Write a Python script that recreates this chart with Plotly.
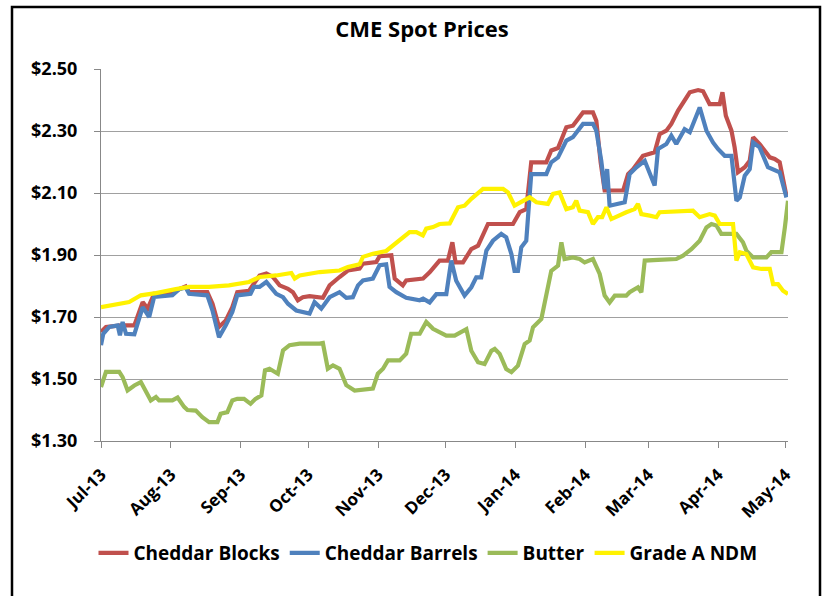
import numpy as np
import pandas as pd
import plotly.graph_objects as go

# Day offsets from 1 Jul 2013 and prices ($/lb)
blocks_day = [0, 2.2, 8.9, 14.8, 18.5, 20.7, 23.6, 31.7, 34.7, 37.6, 39.1, 47.2, 49.5, 52.4, 55.4, 58.3,
              60.5, 65.7, 67.9, 70.4, 73.4, 76.3, 79.3, 83, 85.2, 87.4, 89.6, 92.6, 98.5, 101.5, 105.9,
              109.6, 114.8, 116.3, 122.2, 123.7, 128.9, 130.4, 134, 135.5, 143, 145.9, 150.3, 154, 156,
              157.4, 160.7, 164.4, 167.4, 171.8, 182.9, 185.9, 188.8, 191, 197.7, 199.9, 202.9, 206.6,
              209.5, 214, 218.4, 219.9, 221.8, 223.6, 231.8, 234, 236.2, 239.2, 240.6, 245.8, 248, 251,
              253.2, 256.2, 259.1, 261.4, 265.1, 267.3, 270.2, 274.7, 275.9, 277.4, 279.9, 281.3, 282.8,
              285.8, 288, 289.5, 292.4, 296.9, 299.1, 301.3, 304.3]
blocks_val = [1.652, 1.668, 1.673, 1.673, 1.748, 1.727, 1.775, 1.777, 1.790, 1.799, 1.780, 1.780, 1.743,
              1.668, 1.689, 1.732, 1.780, 1.784, 1.808, 1.834, 1.840, 1.829, 1.802, 1.791, 1.780, 1.754,
              1.764, 1.767, 1.762, 1.802, 1.829, 1.850, 1.856, 1.872, 1.877, 1.896, 1.899, 1.824, 1.802,
              1.818, 1.824, 1.844, 1.882, 1.882, 1.941, 1.876, 1.876, 1.919, 1.930, 2.000, 2.000, 2.038,
              2.048, 2.199, 2.199, 2.237, 2.245, 2.312, 2.317, 2.360, 2.360, 2.333, 2.200, 2.108, 2.108,
              2.161, 2.177, 2.204, 2.220, 2.231, 2.290, 2.301, 2.323, 2.366, 2.398, 2.425, 2.432, 2.428,
              2.387, 2.387, 2.425, 2.349, 2.301, 2.247, 2.167, 2.183, 2.204, 2.280, 2.258, 2.215, 2.210,
              2.199, 2.091]

barrels_day = [0, 1, 3.7, 7.4, 8.4, 9.6, 11.1, 14.8, 18.5, 21.4, 23.6, 31.7, 34.7, 37.6, 39.1, 47.2, 49.5,
               52.4, 55.4, 58.3, 60.5, 66.4, 67.9, 70.4, 73.4, 77.8, 80.8, 83, 86.7, 92.6, 94.8, 97.8,
               101.5, 105.9, 108.9, 111.8, 114.1, 116.3, 120.7, 123.7, 126.6, 128.1, 131.1, 135.5, 141.5,
               143, 145.9, 148.9, 153.3, 155.5, 157.7, 161.4, 164.4, 166.6, 168.8, 171.1, 174, 177.7,
               179.9, 182.2, 183.6, 185.1, 186.6, 188.8, 191, 197.7, 199.9, 202.9, 206.6, 209.5, 214,
               218.4, 219.9, 222.1, 223.6, 224.7, 225.8, 228.8, 232.5, 234.7, 237.7, 241.4, 245.8, 247.3,
               251, 253.2, 255.4, 259.1, 261.4, 265.8, 268.8, 271.7, 273.9, 276.9, 279.9, 282.1, 283.6,
               285.8, 288, 289.5, 292.4, 296.1, 301.3, 304.3]
barrels_val = [1.609, 1.646, 1.668, 1.673, 1.641, 1.684, 1.646, 1.644, 1.732, 1.700, 1.765, 1.770, 1.790,
               1.795, 1.775, 1.770, 1.721, 1.635, 1.673, 1.716, 1.770, 1.775, 1.797, 1.797, 1.813, 1.775,
               1.764, 1.743, 1.721, 1.711, 1.748, 1.727, 1.764, 1.780, 1.762, 1.764, 1.802, 1.818, 1.824,
               1.867, 1.870, 1.797, 1.780, 1.762, 1.754, 1.759, 1.747, 1.774, 1.774, 1.882, 1.817, 1.769,
               1.796, 1.828, 1.828, 1.914, 1.946, 1.968, 1.957, 1.903, 1.849, 1.849, 1.925, 1.946, 2.161,
               2.161, 2.199, 2.215, 2.269, 2.280, 2.323, 2.323, 2.301, 2.204, 2.113, 2.177, 2.059, 2.065,
               2.070, 2.161, 2.183, 2.204, 2.124, 2.242, 2.258, 2.285, 2.258, 2.306, 2.296, 2.376, 2.301,
               2.263, 2.242, 2.220, 2.220, 2.075, 2.086, 2.156, 2.177, 2.263, 2.247, 2.183, 2.167, 2.086]

butter_day = [0, 2.2, 8.1, 9.6, 11.8, 14.8, 17.7, 19.9, 22.1, 24.4, 25.8, 31.7, 34, 36.9, 38.4, 42.1, 45,
              48, 51.7, 53.1, 56.1, 58.3, 60.5, 63.5, 66.4, 68.6, 71.2, 72.8, 74.8, 78.5, 80.8, 83.7, 88.2,
              97.1, 98.5, 100.7, 103, 105.9, 108.9, 112.6, 120.7, 122.9, 125.2, 127.4, 132.6, 135.5,
              137.7, 141.5, 144.4, 147.4, 150.3, 153.3, 157, 162.2, 164.4, 167.4, 170.3, 173.3, 174.8,
              177, 179.9, 182.2, 185.1, 188.1, 190.3, 191.8, 195.5, 197.7, 199.9, 202.9, 204.4, 205.8,
              209.5, 212.5, 214.7, 218.4, 221.4, 223.6, 225.8, 228.1, 233.2, 234.7, 238.4, 239.9, 241.4,
              247.3, 255.4, 258.4, 262.1, 265.8, 268.8, 271, 273.2, 275.4, 282.1, 285, 286.5, 289.5,
              295.4, 297.6, 302.1, 303.6, 305]
butter_val = [1.474, 1.523, 1.523, 1.506, 1.463, 1.479, 1.490, 1.463, 1.431, 1.442, 1.431, 1.431, 1.440,
              1.410, 1.400, 1.398, 1.377, 1.361, 1.361, 1.388, 1.393, 1.431, 1.436, 1.436, 1.420, 1.436,
              1.447, 1.528, 1.533, 1.517, 1.592, 1.609, 1.614, 1.614, 1.616, 1.533, 1.544, 1.533, 1.480,
              1.463, 1.469, 1.517, 1.533, 1.560, 1.560, 1.582, 1.646, 1.646, 1.684, 1.662, 1.651, 1.640,
              1.640, 1.661, 1.591, 1.554, 1.548, 1.591, 1.597, 1.581, 1.532, 1.522, 1.543, 1.613, 1.624,
              1.667, 1.694, 1.774, 1.849, 1.866, 1.941, 1.887, 1.892, 1.887, 1.876, 1.887, 1.839, 1.769,
              1.747, 1.769, 1.769, 1.780, 1.796, 1.780, 1.882, 1.884, 1.887, 1.898, 1.919, 1.946, 1.989,
              2.000, 1.995, 1.968, 1.968, 1.941, 1.914, 1.892, 1.892, 1.909, 1.909, 1.989, 2.075]

ndm_day = [0, 6.6, 12.5, 17.7, 24.4, 33.2, 39.1, 48, 56.8, 65.7, 70.4, 77.8, 84.5, 86, 88.2, 97.1, 105.9,
           109.6, 114.8, 116.3, 120.7, 126.6, 129.6, 134, 137, 140, 142.9, 144.4, 147.4, 150.3, 154.8,
           158.5, 161.4, 164.4, 168.1, 169.6, 178.5, 180.7, 183.6, 187.3, 190.3, 193.3, 198.4, 200.7,
           203.6, 206.6, 209.5, 211, 212.5, 216.2, 218.4, 220.6, 222.5, 224.4, 226.6, 233.2, 236.9,
           238.4, 239.9, 243.6, 246.6, 248, 262.8, 265.8, 268, 270.2, 272.5, 274.7, 280.6, 282.1, 283.6,
           286.5, 289.5, 293.2, 296.9, 298.4, 300.6, 302.8, 305]
ndm_val = [1.732, 1.741, 1.748, 1.770, 1.777, 1.790, 1.797, 1.797, 1.802, 1.813, 1.829, 1.834, 1.842,
           1.824, 1.834, 1.845, 1.850, 1.861, 1.870, 1.894, 1.904, 1.913, 1.931, 1.953, 1.974, 1.974,
           1.963, 1.985, 1.990, 2.000, 2.002, 2.054, 2.059, 2.081, 2.102, 2.113, 2.113, 2.102, 2.059,
           2.075, 2.086, 2.070, 2.065, 2.097, 2.102, 2.048, 2.054, 2.075, 2.043, 2.038, 2.000, 2.022,
           2.022, 2.054, 2.016, 2.038, 2.048, 2.065, 2.032, 2.027, 2.022, 2.038, 2.043, 2.022, 2.027,
           2.032, 2.027, 2.000, 2.000, 1.882, 1.909, 1.903, 1.860, 1.855, 1.855, 1.806, 1.806, 1.785,
           1.774]

series_names = ["Cheddar Blocks", "Cheddar Barrels", "Butter", "Grade A NDM"]
series_colors = ["#C0504D", "#4F81BD", "#9BBB59", "#FFF200"]
y_ticks = [1.30, 1.50, 1.70, 1.90, 2.10, 2.30, 2.50]
x_start = "2013-07-01"
x_end = "2014-05-02"

base = pd.Timestamp(x_start)


def to_dates(days):
    return base + pd.to_timedelta(np.array(days, dtype=float), unit="D")


series = [(blocks_day, blocks_val), (barrels_day, barrels_val), (butter_day, butter_val), (ndm_day, ndm_val)]

FONT = "Open Sans"
fig = go.Figure()
for (d, v), name, color in zip(series, series_names, series_colors):
    fig.add_trace(go.Scatter(x=to_dates(d), y=v, mode="lines", name=name,
                             line=dict(color=color, width=4.2)))

W, H = 827, 596
L, R, T, B = 101, 39, 69, 155
pw, ph = W - L - R, H - T - B
bottom = H - B

fig.update_layout(
    width=W, height=H,
    margin=dict(l=L, r=R, t=T, b=B),
    paper_bgcolor="white", plot_bgcolor="white",
    title=dict(text="CME Spot Prices", x=422 / W, xanchor="center", y=1 - 29 / H, yanchor="middle",
               font=dict(family=FONT, size=22, color="black", weight="bold")),
    showlegend=True,
    legend=dict(orientation="h", x=(428 - L) / pw, xanchor="center", y=-(553 - bottom) / ph,
                yanchor="middle", font=dict(family=FONT, size=19, color="black", weight="bold"),
                bgcolor="rgba(0,0,0,0)", itemwidth=30, tracegroupgap=0),
    xaxis=dict(type="date", range=[x_start, x_end], dtick="M1", tick0=x_start, tickformat="%b-%y",
               tickangle=-45, ticks="outside", ticklen=6, tickcolor="#888888", showgrid=False,
               showline=True, linecolor="#888888", linewidth=1, zeroline=False, ticklabelstandoff=10,
               automargin=False,
               tickfont=dict(family=FONT, size=17, color="black", weight="bold")),
    yaxis=dict(range=[1.30, 2.50], tickvals=y_ticks, tickformat="$.2f", ticks="outside", ticklen=6,
               tickcolor="#888888", showgrid=True, gridcolor="#A0A0A0", gridwidth=1,
               showline=True, linecolor="#888888", linewidth=1, zeroline=False, ticklabelstandoff=13,
               automargin=False,
               tickfont=dict(family=FONT, size=18, color="black", weight="bold")),
    shapes=[dict(type="rect", xref="paper", yref="paper",
                 x0=(12 - L) / pw, x1=(820 - L) / pw, y0=-(600 - bottom) / ph, y1=(bottom - 7) / ph,
                 line=dict(color="black", width=2.5), fillcolor="rgba(0,0,0,0)", layer="below")],
)

fig.write_html("out.html", config={"displayModeBar": False},
               post_script="document.body.style.margin='0';")
